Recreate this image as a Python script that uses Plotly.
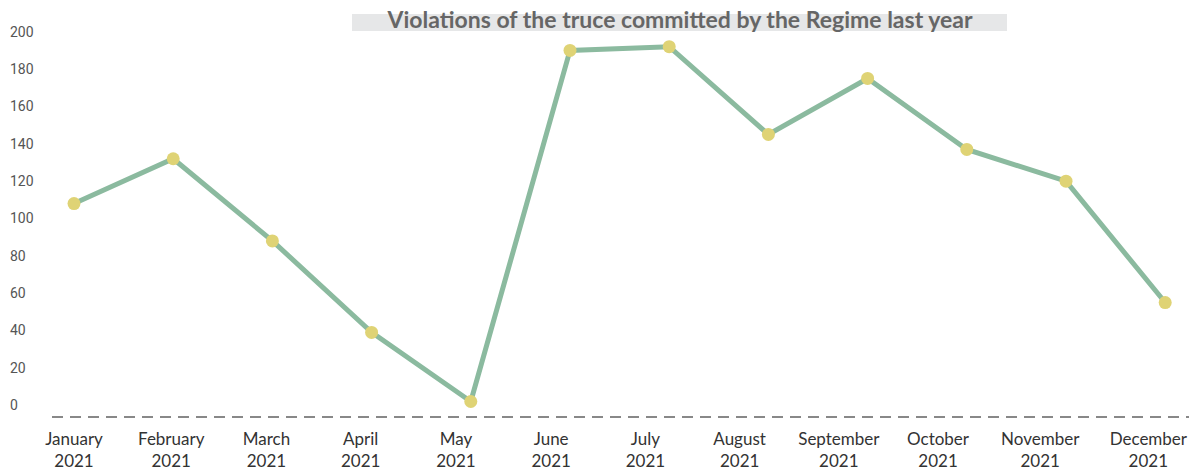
import plotly.graph_objects as go

months = ["January", "February", "March", "April", "May", "June", "July",
          "August", "September", "October", "November", "December"]
year = "2021"
violations = [108, 132, 88, 39, 2, 190, 192, 145, 175, 137, 120, 55]
y_ticks = [0, 20, 40, 60, 80, 100, 120, 140, 160, 180, 200]
# label centres (in category units) as they sit in the reference
label_pos = [0.0, 0.98, 1.94, 2.89, 3.85, 4.81, 5.76, 6.71, 7.71, 8.71, 9.74, 10.83]

x_idx = list(range(len(months)))
tick_text = [f"{m}<br>{year}" for m in months]

W, H = 1189, 472
ml, mr, mt, mb = 7, 0, 20, int(472 - 416.5)
px_per_unit_x = 99.2
x0_px = 74
x_range = [-(x0_px - ml) / px_per_unit_x, (W - mr - x0_px) / px_per_unit_x]

fig = go.Figure()
fig.add_trace(go.Scatter(
    x=x_idx, y=violations, mode="lines+markers",
    line=dict(color="#8bba9f", width=5),
    marker=dict(color="#dfd375", size=13, line=dict(width=0)),
    hoverinfo="y", showlegend=False,
))

plot_w = W - ml - mr
plot_h = H - mt - mb

fig.update_layout(
    width=W, height=H,
    margin=dict(l=ml, r=mr, t=mt, b=mb, pad=0, autoexpand=False),
    paper_bgcolor="white", plot_bgcolor="white",
    title=dict(
        text="<b>Violations of the truce committed by the Regime last year</b>",
        x=680 / W, xanchor="center", xref="container",
        y=1 - 19.5 / H, yanchor="middle", yref="container",
        font=dict(family="Lato, Open Sans, sans-serif", size=23, color="#666666"),
    ),
    xaxis=dict(
        range=x_range, tickmode="array", tickvals=label_pos, ticktext=tick_text,
        showgrid=False, zeroline=False, showline=False, ticks="",
        ticklabelstandoff=10, automargin=False,
        tickfont=dict(family="Lato, Open Sans, sans-serif", size=17, color="#333333"),
        fixedrange=True,
    ),
    yaxis=dict(
        range=[-6.3, 206.3], tickmode="array", tickvals=y_ticks,
        showgrid=False, zeroline=False, showline=False, ticks="",
        ticklabelposition="inside", ticklabelstandoff=0, automargin=False,
        tickfont=dict(family="Roboto, sans-serif", size=14, color="#555555"),
        fixedrange=True,
    ),
    shapes=[
        dict(type="rect", xref="paper", yref="paper", layer="below",
             x0=(352 - ml) / plot_w, x1=(1007 - ml) / plot_w,
             y0=(H - mb - 31) / plot_h, y1=(H - mb - 14) / plot_h,
             fillcolor="#e6e7e8", line=dict(width=0)),
        dict(type="line", xref="paper", yref="paper",
             x0=(52 - ml) / plot_w, x1=1, y0=0, y1=0,
             line=dict(color="#888888", width=2, dash="11px,7px")),
    ],
)

fig.write_html(
    "out.html",
    config={"displayModeBar": False},
    post_script=(
        "document.body.style.margin='0';"
        "document.body.style.overflow='hidden';"
        "document.documentElement.style.overflow='hidden';"
    ),
)
